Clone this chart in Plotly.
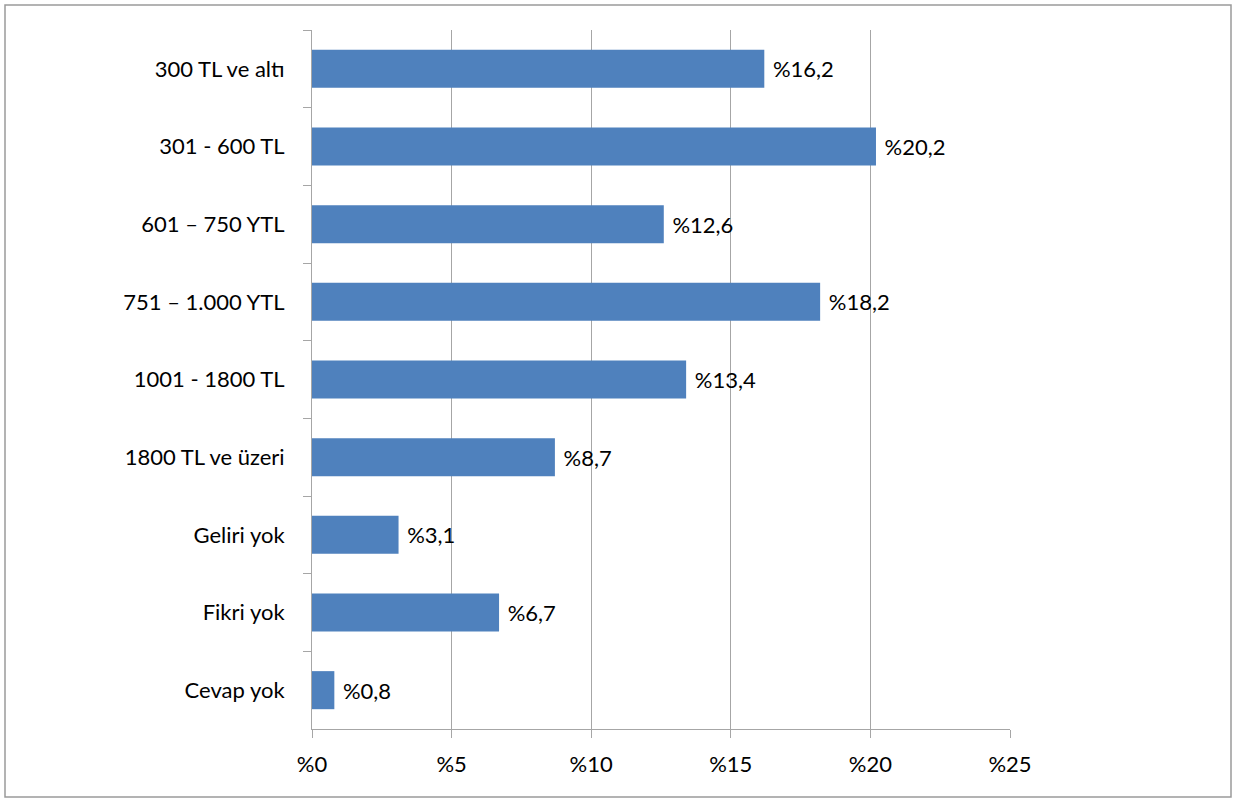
import plotly.graph_objects as go

categories = ["300 TL ve altı", "301 - 600 TL", "601 – 750 YTL", "751 – 1.000 YTL",
              "1001 - 1800 TL", "1800 TL ve üzeri", "Geliri yok", "Fikri yok", "Cevap yok"]
values = [16.2, 20.2, 12.6, 18.2, 13.4, 8.7, 3.1, 6.7, 0.8]
x_ticks = [0, 5, 10, 15, 20, 25]

labels = ["\u00a0%" + str(v).replace(".", ",") for v in values]
x_tick_text = ["%" + str(t) for t in x_ticks]

W, H = 1240, 800
ml, mr, mt, mb = 312, 230, 30, 71
pw, ph = W - ml - mr, H - mt - mb

fig = go.Figure(go.Bar(
    x=values, y=categories, orientation="h",
    marker=dict(color="#4F81BD", line=dict(width=0)),
    width=0.49,
    text=labels, textposition="outside", cliponaxis=False,
    textfont=dict(size=22, color="black"),
))

# outer frame around the whole chart
fig.add_shape(type="rect", xref="paper", yref="paper",
              x0=(5 - ml) / pw, x1=(1231 - ml) / pw,
              y0=-(797 - mt - ph) / ph, y1=1 + (mt - 5) / ph,
              line=dict(color="#9a9a9a", width=1.5))

fig.update_layout(
    width=W, height=H,
    margin=dict(l=ml, r=mr, t=mt, b=mb),
    plot_bgcolor="white", paper_bgcolor="white",
    font=dict(family="Lato", size=22, color="black"),
    showlegend=False,
    xaxis=dict(range=[0, 25], tickvals=x_ticks, ticktext=x_tick_text,
               showgrid=True, gridcolor="#a6a6a6", gridwidth=1,
               showline=True, linecolor="#a6a6a6", linewidth=1,
               ticks="outside", ticklen=8, tickcolor="#a6a6a6",
               zeroline=False, ticklabelstandoff=8),
    yaxis=dict(categoryorder="array", categoryarray=categories, autorange="reversed",
               showline=True, linecolor="#a6a6a6", linewidth=1,
               ticks="outside", ticklen=8, tickcolor="#a6a6a6", tickson="boundaries",
               showgrid=False, ticklabelstandoff=22),
)

fig.write_html("out.html", config={"displayModeBar": False},
               post_script="document.body.style.margin='0';")
